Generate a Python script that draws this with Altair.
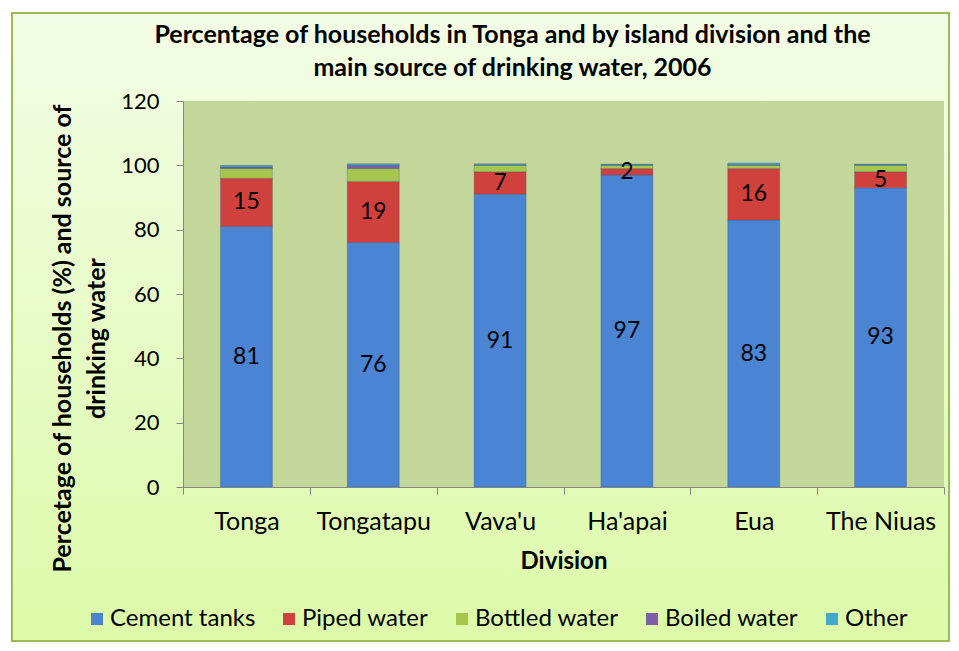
import altair as alt
import pandas as pd

divisions = ["Tonga", "Tongatapu", "Vava'u", "Ha'apai", "Eua", "The Niuas"]
sources = ["Cement tanks", "Piped water", "Bottled water", "Boiled water", "Other"]
cement = [81, 76, 91, 97, 83, 93]
piped = [15, 19, 7, 2, 16, 5]
bottled = [3, 4, 2, 1, 1, 2]
boiled = [0.5, 1, 0.2, 0.2, 0.2, 0.2]
other = [0.5, 0.5, 0.3, 0.2, 0.5, 0.2]
colors = ["#4a84d2", "#d0403c", "#a6c64e", "#7e5fa6", "#3fa9c9"]
y_ticks = [0, 20, 40, 60, 80, 100, 120]
labelled = ["Cement tanks", "Piped water"]

series = [cement, piped, bottled, boiled, other]
rows = []
for si, (src, vals) in enumerate(zip(sources, series)):
    for d, v in zip(divisions, vals):
        rows.append({"division": d, "source": src, "value": v, "order": si})
df = pd.DataFrame(rows)

FONT = "Lato"
W, H = 761, 386

dummy = pd.DataFrame({"a": [0]})

frame = alt.Chart(dummy).mark_rect(
    fill=alt.Gradient(
        gradient="linear",
        stops=[alt.GradientStop(color="#f3fde6", offset=0),
               alt.GradientStop(color="#dcfaa8", offset=1)],
        x1=0, x2=0, y1=0, y2=1,
    ),
    stroke="#9bbb59", strokeWidth=2,
).encode(x=alt.value(-171), x2=alt.value(766), y=alt.value(-88), y2=alt.value(540))

plotbg = alt.Chart(dummy).mark_rect(fill="#c4d79b").encode(
    x=alt.value(0), x2=alt.value(W), y=alt.value(0), y2=alt.value(H)
)

base = alt.Chart(df).transform_stack(
    stack="value", groupby=["division"], sort=[alt.SortField("order")], as_=["y0", "y1"]
).transform_calculate(mid="(datum.y0 + datum.y1) / 2")

bars = base.mark_bar(size=52, stroke="#2f4f7a", strokeOpacity=0.35, strokeWidth=0.8).encode(
    x=alt.X("division:N", sort=divisions,
            scale=alt.Scale(paddingInner=0, paddingOuter=0),
            axis=alt.Axis(title="Division", labelAngle=0, tickBand="extent", zindex=1,
                          labelFontSize=25, tickSize=7, labelPadding=15, titlePadding=15)),
    y=alt.Y("y0:Q", scale=alt.Scale(domain=[0, 120]),
            axis=alt.Axis(values=y_ticks, tickSize=7, labelPadding=17, zindex=1,
                          labelFontSize=22, titleFontSize=25,
                          title=["Percetage of households (%) and source of", "drinking water"],
                          titleX=-121, titleY=237, titleAngle=270,
                          titleAlign="center", titleBaseline="middle", titleLineHeight=34)),
    y2="y1:Q",
    color=alt.Color("source:N", sort=sources,
                    scale=alt.Scale(domain=sources, range=colors),
                    legend=alt.Legend(title=None, orient="none", direction="horizontal",
                                      legendX=-98, legendY=506, symbolType="square",
                                      symbolSize=144, symbolStrokeWidth=0,
                                      labelFontSize=24, labelFont=FONT, labelColor="#000",
                                      columnPadding=21, labelOffset=1)),
    order=alt.Order("order:Q"),
)

labels = base.transform_filter(
    alt.FieldOneOfPredicate(field="source", oneOf=labelled)
).mark_text(fontSize=23, font=FONT, color="#000").encode(
    x=alt.X("division:N", sort=divisions),
    y=alt.Y("mid:Q"),
    text=alt.Text("value:Q"),
)

chart = alt.layer(frame, plotbg, bars, labels).properties(
    width=W, height=H,
    background="white",
    autosize=alt.AutoSizeParams(type="none"),
    padding={"left": 175, "top": 93, "right": 7, "bottom": 156},
    title=alt.TitleParams(
        text=["Percentage of households in Tonga and by island division and the",
              "main source of drinking water, 2006"],
        anchor="middle", frame="group", dx=-51, fontSize=25, fontWeight="bold", font=FONT,
        color="#000", lineHeight=33, offset=-69,
    ),
).configure_view(strokeWidth=0).configure_axis(
    labelFont=FONT, labelColor="#000",
    titleFont=FONT, titleFontSize=24, titleFontWeight="bold", titleColor="#000",
    domainColor="#868686", tickColor="#868686", grid=False,
)

chart.save("out.html", embed_options={"renderer": "svg", "actions": False})
